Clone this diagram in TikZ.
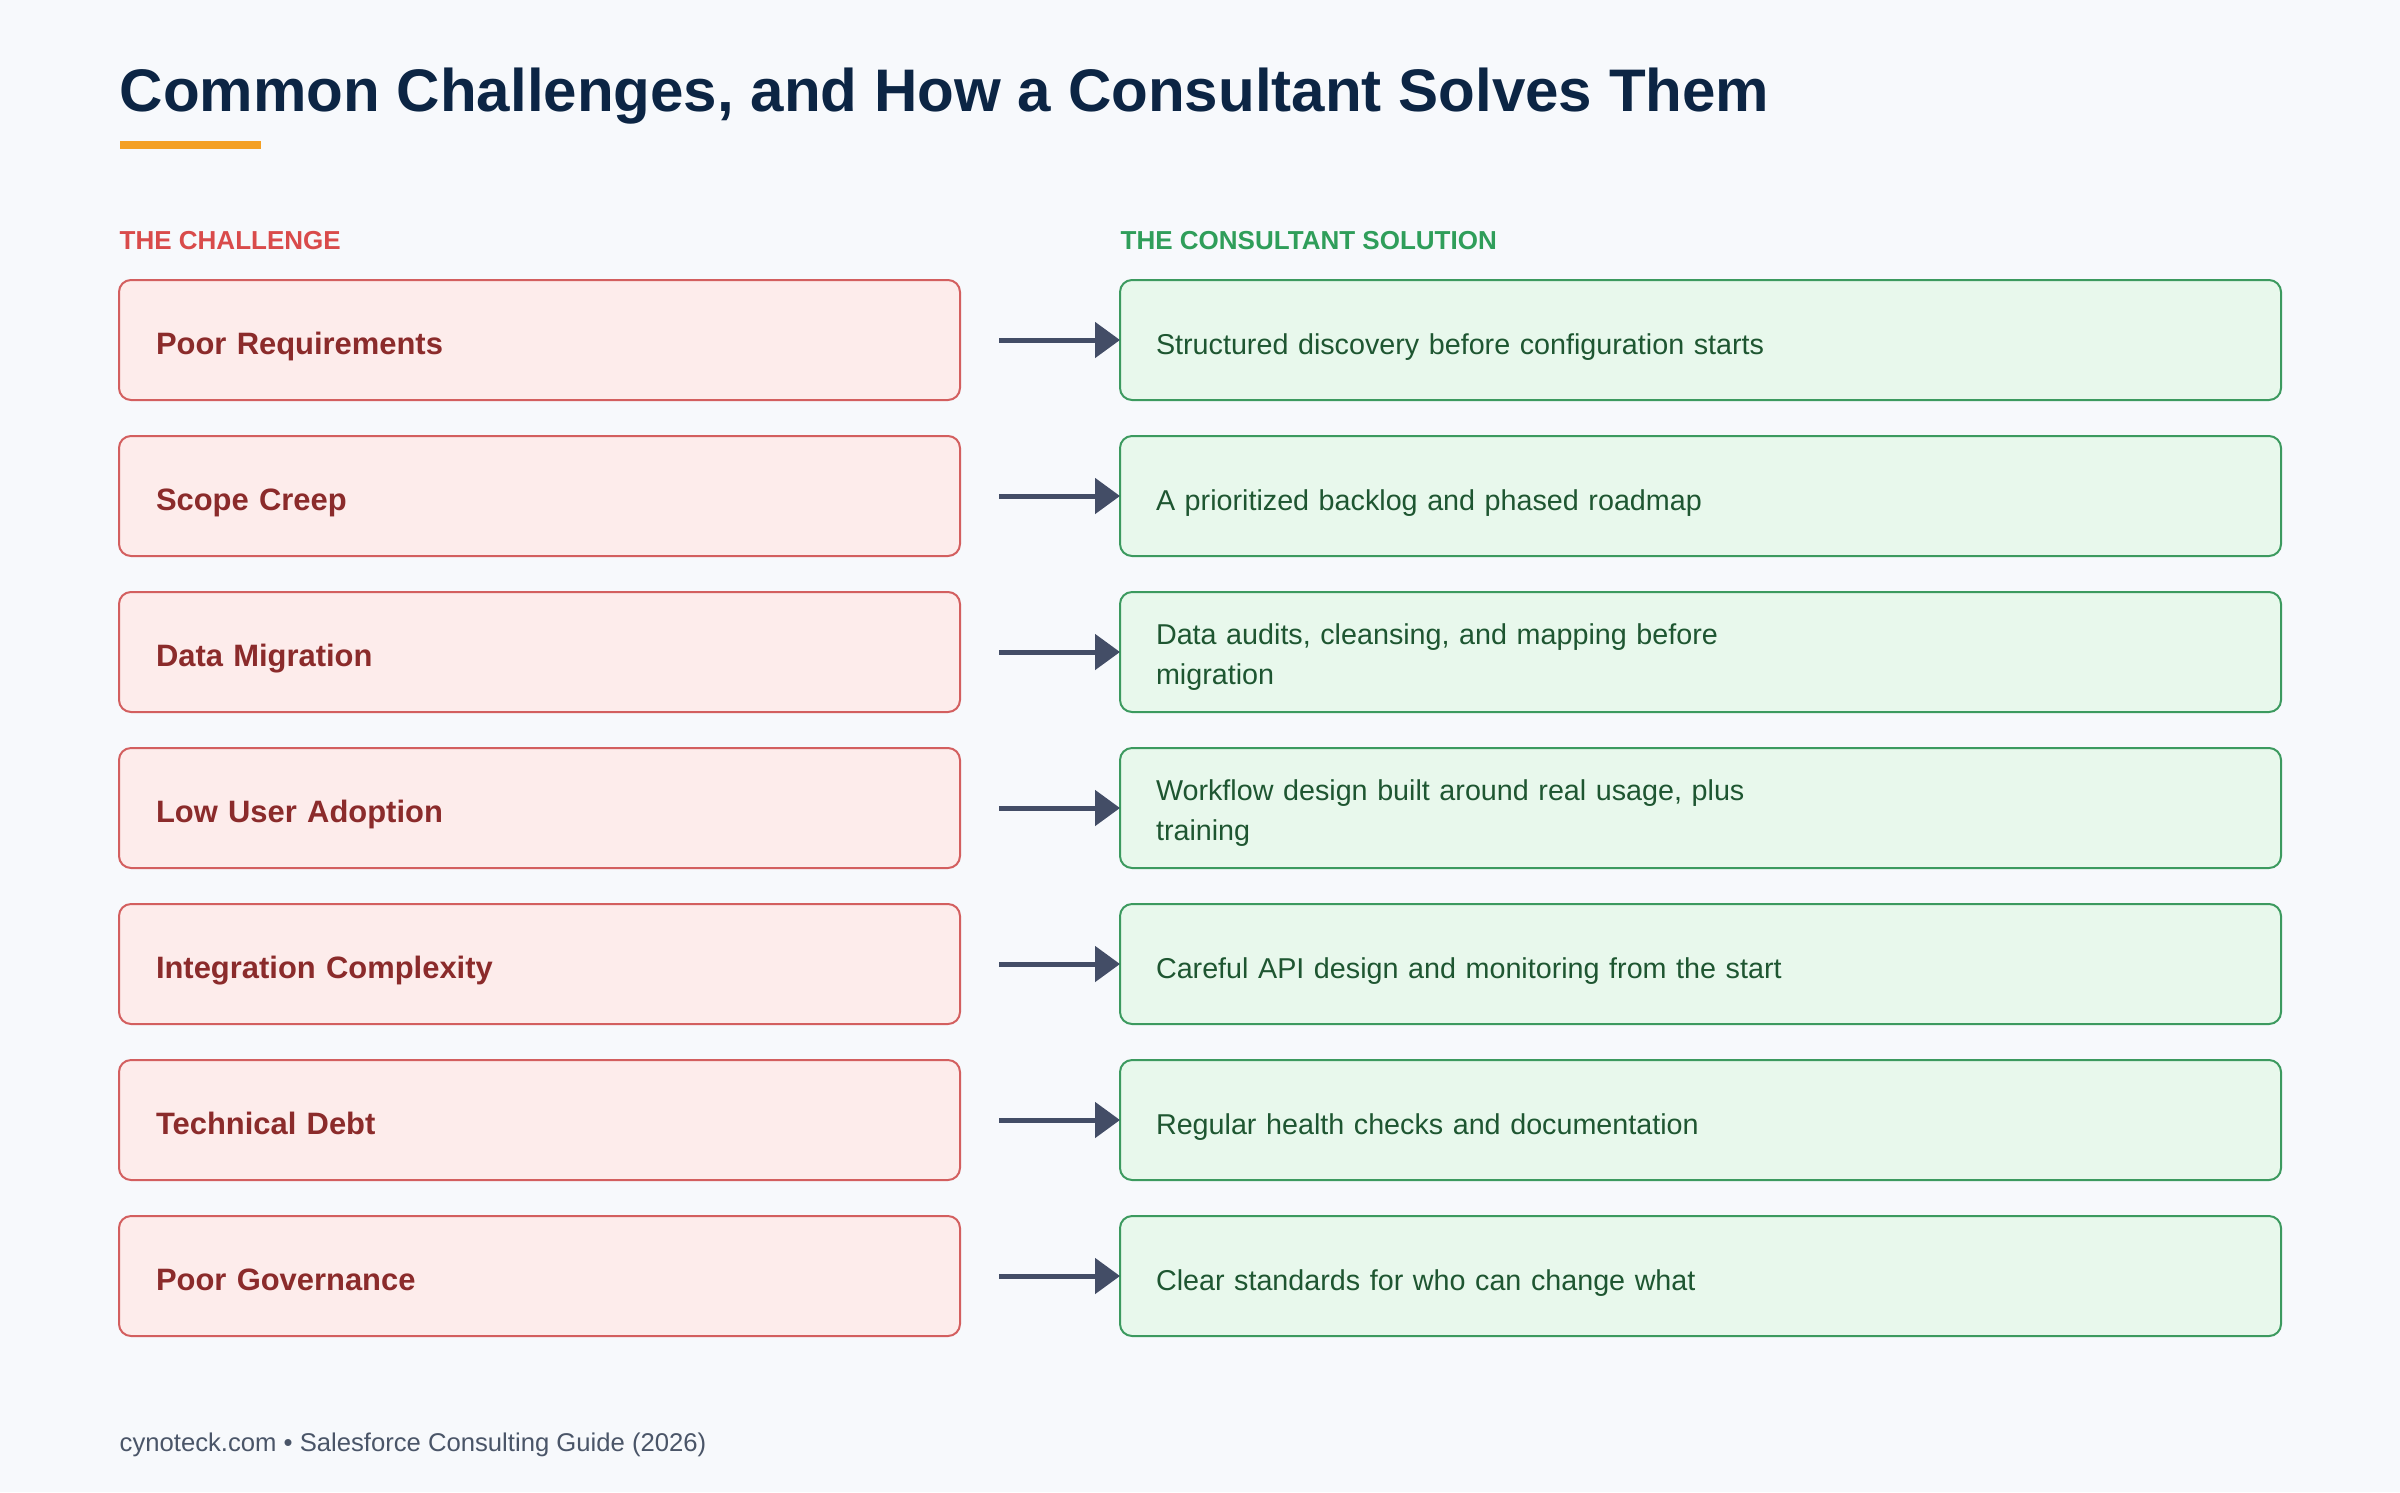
\documentclass[tikz,border=0pt]{standalone}
\usepackage{fontspec}
\setmainfont{Liberation Sans}
\usetikzlibrary{arrows.meta,positioning}
\definecolor{pagebg}{HTML}{F7F9FC}
\definecolor{titlecol}{HTML}{0C2544}
\definecolor{accent}{HTML}{F4A024}
\definecolor{chhead}{HTML}{D94B4B}
\definecolor{sohead}{HTML}{2F9E5A}
\definecolor{chfill}{HTML}{FDECEB}
\definecolor{chline}{HTML}{D35F5F}
\definecolor{chtext}{HTML}{8B2B2B}
\definecolor{sofill}{HTML}{E8F8EC}
\definecolor{soline}{HTML}{3C9A5F}
\definecolor{sotext}{HTML}{1E5631}
\definecolor{arrowcol}{HTML}{434D66}
\definecolor{footcol}{HTML}{4A5568}

\begin{document}
\begin{tikzpicture}[
    node distance=0.36cm and 1.60cm,
    heading/.style={
      anchor=base west,
      inner sep=0pt,
      text=titlecol,
      font=\fontsize{17.1pt}{20pt}\selectfont\bfseries
    },
    colhead/.style={
      anchor=base west,
      inner sep=0pt,
      font=\fontsize{7.4pt}{9pt}\selectfont\bfseries
    },
    box/.style={
      rounded corners=0.12cm,
      line width=0.02cm,
      align=left,
      minimum height=1.2cm,
      inner ysep=0pt,
      outer sep=0pt,
      text height=0.30cm,
      text depth=0.02cm
    },
    challenge/.style={
      box,
      fill=chfill,
      draw=chline,
      text=chtext,
      inner xsep=0.37cm,
      text width=7.67cm,
      font=\fontsize{8.8pt}{11pt}\selectfont\bfseries
    },
    solution/.style={
      box,
      fill=sofill,
      draw=soline,
      text=sotext,
      inner xsep=0.36cm,
      text width=10.89cm,
      font=\fontsize{8.17pt}{11.38pt}\selectfont
    },
    twoline/.style={text height=0.20cm, text depth=0.36cm},
    arrow/.style={-{Triangle[length=0.25cm,width=0.35cm]}, line width=0.05cm, draw=arrowcol, fill=arrowcol, shorten <=0.39cm}
  ]
    \fill[pagebg] (0,0) rectangle (24,-14.92);
    \useasboundingbox (0,0) rectangle (24,-14.92);

    \node[heading] (title) at (1.19,-1.11) {Common Challenges, and How a Consultant Solves Them};
    \node[fill=accent, inner sep=0pt, minimum width=1.41cm, minimum height=0.08cm, anchor=north west] (rule) at (1.19,-1.40) {};

    \node[colhead, text=chhead] (lefthead) at (1.19,-2.49) {THE CHALLENGE};
    \node[colhead, text=sohead] (righthead) at (11.20,-2.49) {THE CONSULTANT SOLUTION};

    \node[challenge, anchor=north west] (c1) at (1.19,-2.80) {Poor Requirements};
    \node[challenge, below=of c1] (c2) {Scope Creep};
    \node[challenge, below=of c2] (c3) {Data Migration};
    \node[challenge, below=of c3] (c4) {Low User Adoption};
    \node[challenge, below=of c4] (c5) {Integration Complexity};
    \node[challenge, below=of c5] (c6) {Technical Debt};
    \node[challenge, below=of c6] (c7) {Poor Governance};

    \node[solution, right=of c1] (s1) {Structured discovery before configuration starts};
    \node[solution, right=of c2] (s2) {A prioritized backlog and phased roadmap};
    \node[solution, twoline, right=of c3] (s3) {Data audits, cleansing, and mapping before\\migration};
    \node[solution, twoline, right=of c4] (s4) {Workflow design built around real usage, plus\\training};
    \node[solution, right=of c5] (s5) {Careful API design and monitoring from the start};
    \node[solution, right=of c6] (s6) {Regular health checks and documentation};
    \node[solution, right=of c7] (s7) {Clear standards for who can change what};

    \draw[arrow] (c1) -- (s1);
    \draw[arrow] (c2) -- (s2);
    \draw[arrow] (c3) -- (s3);
    \draw[arrow] (c4) -- (s4);
    \draw[arrow] (c5) -- (s5);
    \draw[arrow] (c6) -- (s6);
    \draw[arrow] (c7) -- (s7);

    \node[anchor=base west, inner sep=0pt, text=footcol, font=\fontsize{7.3pt}{9pt}\selectfont] (footer) at (1.19,-14.51) {cynoteck.com • Salesforce Consulting Guide (2026)};
  \end{tikzpicture}
\end{document}
